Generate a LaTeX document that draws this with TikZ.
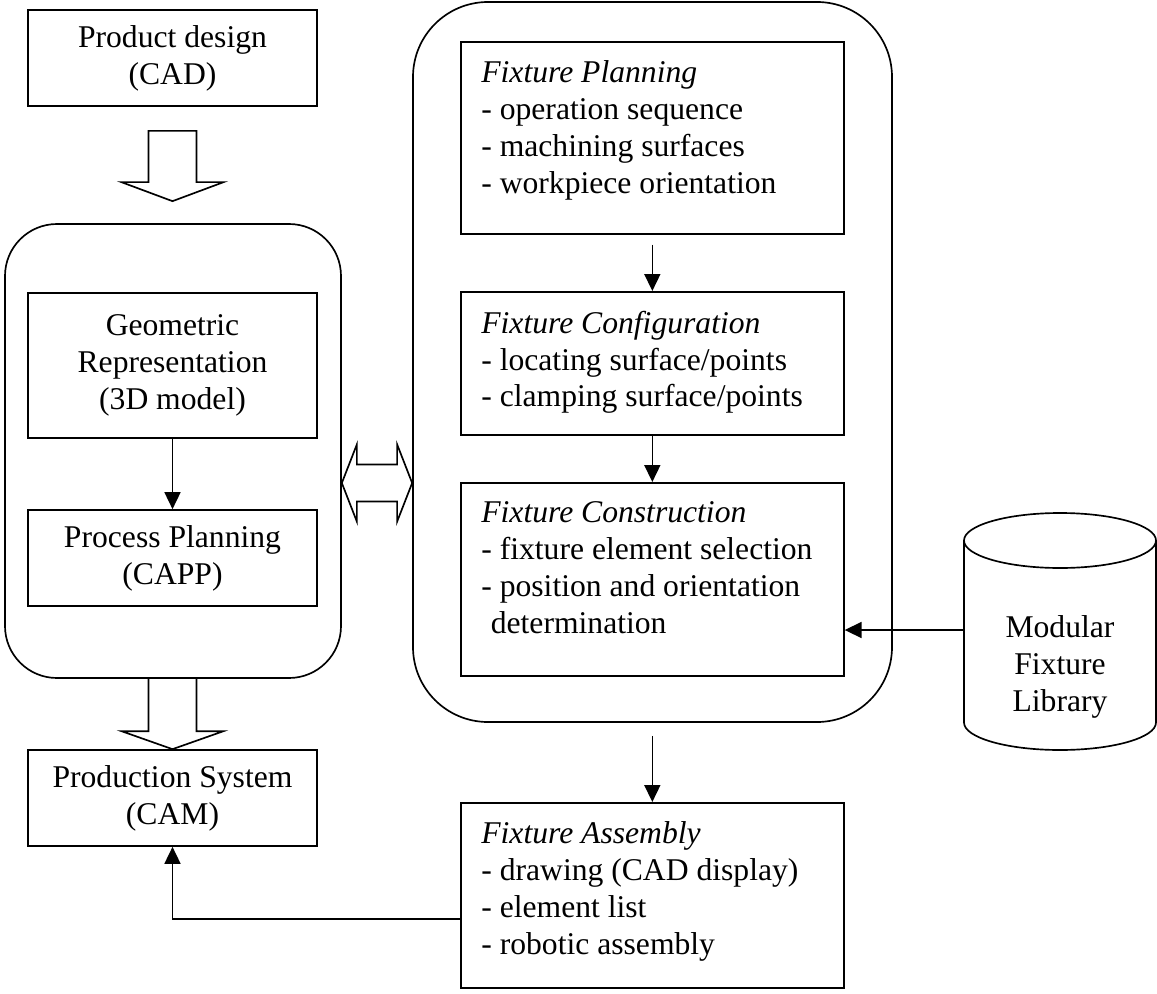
\documentclass[tikz,border=0pt]{standalone}
\usepackage{fontspec}
\setmainfont{Liberation Serif}
\usetikzlibrary{arrows.meta, positioning, calc}
\newcommand{\diagfont}{\fontsize{18}{21}\selectfont}
\tikzset{
  box/.style={draw, line width=0.95pt, minimum width=57.8mm, align=center, font=\diagfont, inner sep=0pt},
  fixbox/.style={draw, line width=0.95pt, anchor=north west, minimum width=76.6mm, inner sep=0pt},
  fixtext/.style={anchor=north west, align=left, inner xsep=4.2mm, inner ysep=3.9mm, font=\diagfont},
  frame/.style={draw, line width=0.95pt, inner sep=0pt},
  arr/.style={-{Triangle[length=3.4mm, width=3.2mm]}, line width=0.95pt},
  fat/.style={draw, line width=0.95pt, line join=miter},
}

\begin{document}
\begin{tikzpicture}[x=0.2mm, y=-0.2mm]
  \useasboundingbox (0,0) rectangle (1157,994);

  % left column
  \node[box, minimum height=19.2mm] (prod) at (172.5,58) {Product design\\(CAD)};
  \node[frame, minimum width=67.2mm, minimum height=90.8mm, rounded corners=10.4mm] (lframe) at (173,451) {};
  \node[box, minimum height=29mm] (geo) at (172.5,365.5) {Geometric\\Representation\\(3D model)};
  \node[box, minimum height=19.2mm] (proc) at (172.5,558) {Process Planning\\(CAPP)};
  \node[box, minimum height=19.2mm] (cam) at (172.5,798) {Production System\\(CAM)};

  % fixture design
  \node[frame, minimum width=95.8mm, minimum height=144mm, rounded corners=15mm] (rframe) at (652.5,362) {};
  \node[fixbox, minimum height=38.4mm, label={[fixtext]north west:{\textit{Fixture Planning}\\- operation sequence\\- machining surfaces\\- workpiece orientation}}] (plan) at (460,41) {};
  \node[fixbox, minimum height=28.6mm, label={[fixtext]north west:{\textit{Fixture Configuration}\\- locating surface/points\\- clamping surface/points}}] (conf) at (460,291) {};
  \node[fixbox, minimum height=38.6mm, label={[fixtext]north west:{\textit{Fixture Construction}\\- fixture element selection\\- position and orientation\\\hspace*{0.3em}determination}}] (cons) at (460,482) {};
  \node[fixbox, minimum height=37mm, label={[fixtext]north west:{\textit{Fixture Assembly}\\- drawing (CAD display)\\- element list\\- robotic assembly}}] (asm) at (460,802) {};

  % library
  \node[font=\diagfont, align=center] (lib) at (1060,667) {Modular\\Fixture\\Library};
  \draw[line width=0.95pt] (1060,540.5) ellipse [x radius=19.2mm, y radius=5.5mm];
  \draw[line width=0.95pt] (964,540.5) -- (964,722.5) arc[start angle=180, end angle=360, x radius=19.2mm, y radius=5.5mm] -- (1156,540.5);
  \coordinate (cylw) at (964,630);

  % thin arrows
  \draw[arr] (geo.south) -- (proc.north);
  \draw[arr, shorten <=2mm] (plan.south) -- (conf.north);
  \draw[arr] (conf.south) -- (cons.north);
  \draw[arr, shorten <=2.6mm] (asm.north |- rframe.south) -- (asm.north);
  \draw[arr] (cylw) -- (cons.east |- cylw);
  \draw[arr] ([yshift=-4.7mm]asm.west) -| (cam.south);

  % block arrows
  \coordinate (b1s) at ($(prod.south)+(0,24)$);
  \coordinate (b1e) at ($(prod.south |- lframe.north)+(0,-22)$);
  \draw[fat] ($(b1s)+(-24,0)$) -- ($(b1e)+(-24,-19)$) -- ($(b1e)+(-51,-19)$) -- (b1e) -- ($(b1e)+(51,-19)$) -- ($(b1e)+(24,-19)$) -- ($(b1s)+(24,0)$) -- cycle;
  \coordinate (b2s) at (cam.north |- lframe.south);
  \coordinate (b2e) at (cam.north);
  \draw[fat] ($(b2s)+(-24,0)$) -- ($(b2e)+(-24,-18)$) -- ($(b2e)+(-51,-18)$) -- (b2e) -- ($(b2e)+(51,-18)$) -- ($(b2e)+(24,-18)$) -- ($(b2s)+(24,0)$);
  \coordinate (dl) at ($(lframe.east)+(0,32)$);
  \coordinate (dr) at (rframe.west |- dl);
  \draw[fat] (dl) -- ($(dl)+(15,-38.5)$) -- ($(dl)+(15,-18.5)$) -- ($(dr)+(-15,-18.5)$) -- ($(dr)+(-15,-38.5)$) -- (dr)
    -- ($(dr)+(-15,38.5)$) -- ($(dr)+(-15,18.5)$) -- ($(dl)+(15,18.5)$) -- ($(dl)+(15,38.5)$) -- cycle;
\end{tikzpicture}
\end{document}
